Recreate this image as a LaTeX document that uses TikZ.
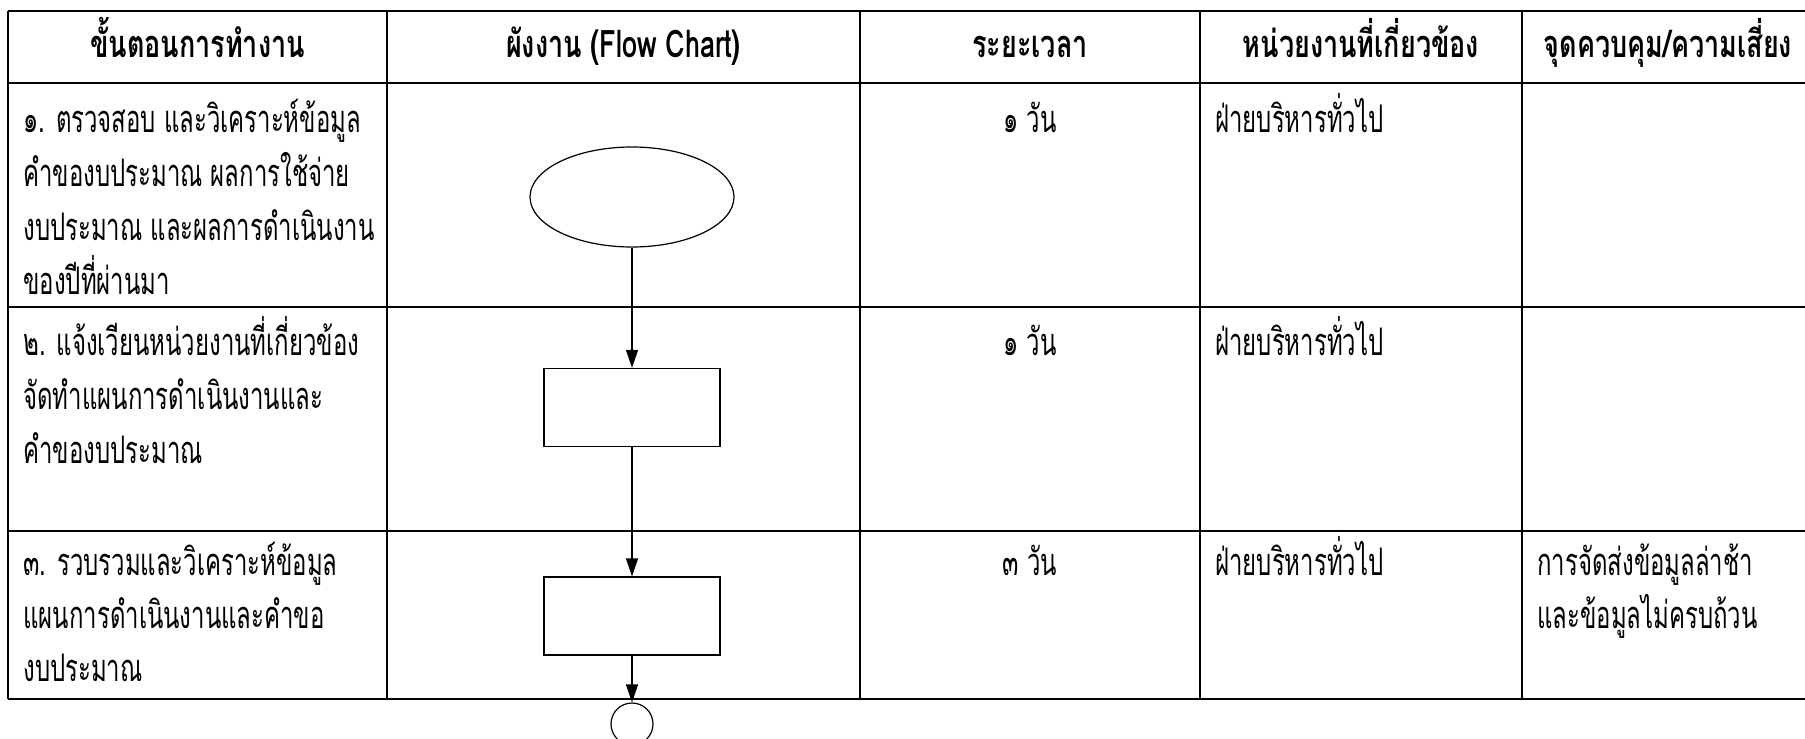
\documentclass[tikz,border=0pt]{standalone}
\usepackage{fontspec}
\newfontfamily\thai[Script=Thai,FakeStretch=0.63]{Loma}
\newfontfamily\thaihead[Script=Thai,FakeStretch=0.71]{Loma}
\usetikzlibrary{arrows.meta,shapes.geometric}
\begin{document}
\begin{tikzpicture}[x=0.5pt,y=-0.5pt,
  every node/.style={inner sep=0pt,font=\thai\fontsize{19}{22}\selectfont},
  head/.style={anchor=base,font=\thaihead\bfseries\fontsize{19}{22}\selectfont},
  line/.style={anchor=base west},
  flow/.style={draw,line width=0.6pt,minimum width=88pt,minimum height=39pt},
  link/.style={line width=0.6pt,-{Triangle[length=9pt,width=6pt]}}]
\useasboundingbox (0,0) rectangle (1805,739);
\foreach \y in {11,83,307,531,699}
  \draw[line width=1.2pt] (8,\y) -- (1814,\y);
\foreach \x in {8,387,860,1200,1522,1814}
  \draw[line width=1.2pt] (\x,11) -- (\x,699);
\foreach \x/\t [count=\k] in {197.5/ขั้นตอนการทำงาน,623.5/ผังงาน (Flow Chart),1030/ระยะเวลา,1361/หน่วยงานที่เกี่ยวข้อง,1668/{จุดควบคุม/ความเสี่ยง}}
  \node[head] (h\k) at (\x,57) {\t};
\foreach \t [count=\k] in {๑. ตรวจสอบ และวิเคราะห์ข้อมูล,คำของบประมาณ ผลการใช้จ่าย,งบประมาณ และผลการดำเนินงาน,ของปีที่ผ่านมา}
  \node[line] (a\k) at (23,78+54*\k) {\t};
\foreach \t [count=\k] in {๒. แจ้งเวียนหน่วยงานที่เกี่ยวข้อง,จัดทำแผนการดำเนินงานและ,คำของบประมาณ}
  \node[line] (b\k) at (23,301+54*\k) {\t};
\foreach \t [count=\k] in {๓. รวบรวมและวิเคราะห์ข้อมูล,แผนการดำเนินงานและคำขอ,งบประมาณ}
  \node[line] (c\k) at (23,522+53*\k) {\t};
\foreach \y/\t [count=\k] in {132/๑ วัน,355/๑ วัน,575/๓ วัน}
  \node[anchor=base] (d\k) at (1030,\y) {\t};
\foreach \y [count=\k] in {132,355,575}
  \node[line] (u\k) at (1215,\y) {ฝ่ายบริหารทั่วไป};
\node[line] (r1) at (1537,575) {การจัดส่งข้อมูลล่าช้า};
\node[line] (r2) at (1537,628) {และข้อมูลไม่ครบถ้วน};
\node[draw,ellipse,line width=0.6pt,minimum width=102pt,minimum height=50pt] (start) at (632,197) {};
\node[flow] (s2) at (632,407.5) {};
\node[flow] (s3) at (632,616) {};
\node[draw,circle,line width=0.6pt,minimum size=21pt] (stop) at (632,724) {};
\draw[link] (start) -- (s2);
\draw[link] (s2) -- (s3);
\draw[link] (s3) -- (stop);
\end{tikzpicture}
\end{document}
